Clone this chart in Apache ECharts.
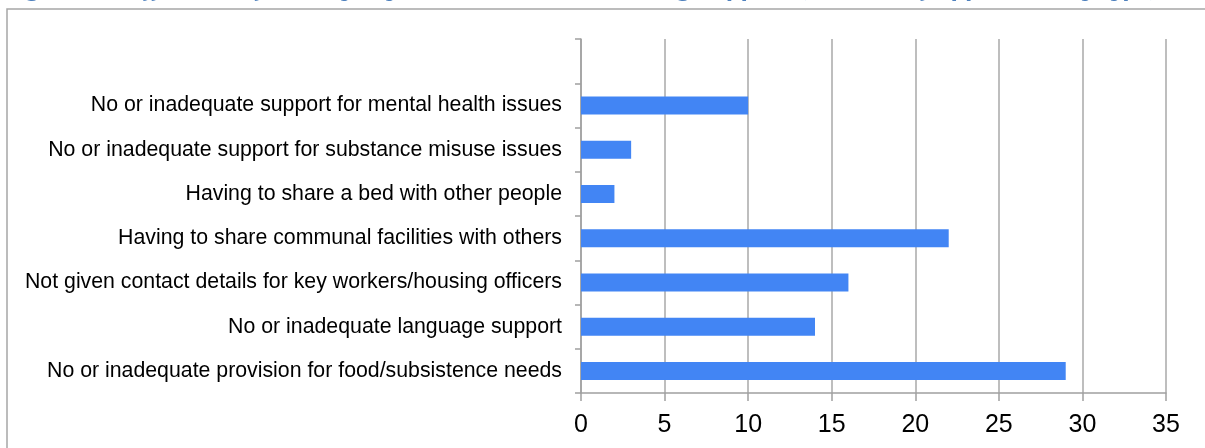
<!DOCTYPE html>
<html>
<head>
<meta charset="utf-8">
<script src="https://cdn.jsdelivr.net/npm/echarts@6/dist/echarts.min.js"></script>
<style>
  html, body { margin: 0; padding: 0; background: #fff; }
  #main { width: 1205px; height: 448px; }
</style>
</head>
<body>
<div id="main"></div>
<script>
// categories, bottom to top (top slot is empty in the original)
var categories = [
  "No or inadequate provision for food/subsistence needs",
  "No or inadequate language support",
  "Not given contact details for key workers/housing officers",
  "Having to share communal facilities with others",
  "Having to share a bed with other people",
  "No or inadequate support for substance misuse issues",
  "No or inadequate support for mental health issues",
  ""
];
var counts = [29, 14, 16, 22, 2, 3, 10, null];
var axisMin = 0;
var axisMax = 35;
var axisStep = 5;

var myChart = echarts.init(document.getElementById("main"));
var option = {
  animation: false,
  textStyle: { fontFamily: "Liberation Sans, Arial, sans-serif" },
  graphic: [
    {
      // outer frame of the figure
      type: "rect",
      shape: { x: 7, y: 9, width: 1230, height: 460 },
      style: { fill: "none", stroke: "#a6a6a6", lineWidth: 1.5 }
    },
    {
      // caption, mostly cut off at the top of the picture
      type: "text",
      x: 4,
      y: -19,
      style: {
        text: "Figure 9: Difficulties faced by asylum seekers in accessing support (number of applicants by type)",
        fill: "#4f81bd",
        font: "italic bold 21px 'DejaVu Serif', serif"
      }
    }
  ],
  grid: {
    left: 581,
    right: 1205 - 1166,
    top: 39,
    bottom: 448 - 393,
    containLabel: false
  },
  xAxis: {
    type: "value",
    min: axisMin,
    max: axisMax,
    interval: axisStep,
    axisLine: { show: true, lineStyle: { color: "#a0a0a0", width: 1.5 } },
    axisTick: { show: true, length: 8, lineStyle: { color: "#a0a0a0", width: 1.5 } },
    splitLine: { show: true, lineStyle: { color: "#a8a8a8", width: 1.5 } },
    axisLabel: { color: "#000", fontSize: 25, margin: 20 }
  },
  yAxis: {
    type: "category",
    data: categories,
    axisLine: { show: true, lineStyle: { color: "#a0a0a0", width: 1.5 } },
    axisTick: { show: true, length: 6, alignWithLabel: false, lineStyle: { color: "#a0a0a0", width: 1.5 } },
    splitLine: { show: false },
    axisLabel: { color: "#000", fontSize: 21.3, margin: 19 }
  },
  series: [
    {
      type: "bar",
      data: counts,
      barWidth: 18,
      itemStyle: { color: "#4285f4" }
    }
  ]
};
myChart.setOption(option);
</script>
</body>
</html>
